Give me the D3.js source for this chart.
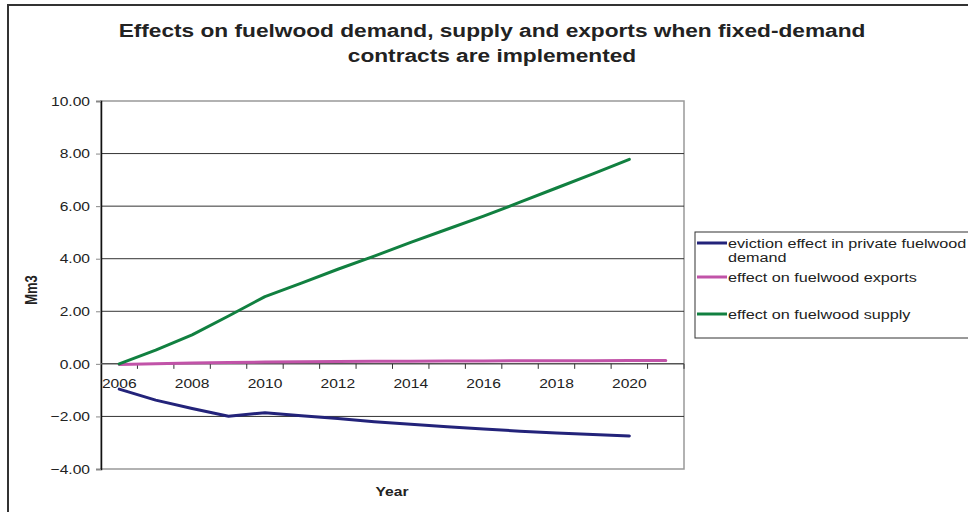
<!DOCTYPE html>
<html>
<head>
<meta charset="utf-8">
<script src="https://cdn.jsdelivr.net/npm/d3@7"></script>
<style>
  body { margin: 0; background: #fff; }
  svg { display: block; font-family: "Liberation Sans", Arial, sans-serif; }
</style>
</head>
<body>
<div id="chart"></div>
<script>
// years on the category axis (2021 only carries the exports series)
const years = d3.range(2006, 2022);
const evictionDemand = [-0.96, -1.38, -1.7, -1.99, -1.86, -1.97, -2.08, -2.2, -2.3, -2.39, -2.48, -2.56, -2.63, -2.69, -2.74];
const fuelwoodExports = [-0.02, 0.0, 0.03, 0.05, 0.07, 0.08, 0.09, 0.1, 0.1, 0.11, 0.11, 0.12, 0.12, 0.12, 0.13, 0.13];
const fuelwoodSupply = [0, 0.52, 1.1, 1.82, 2.56, 3.07, 3.6, 4.1, 4.62, 5.12, 5.62, 6.15, 6.69, 7.23, 7.78];
const yTicks = [-4, -2, 0, 2, 4, 6, 8, 10];
const xLabels = [2006, 2008, 2010, 2012, 2014, 2016, 2018, 2020];

const series = [
  { name: ['eviction effect in private fuelwood', 'demand'], values: evictionDemand, color: '#23237a' },
  { name: ['effect on fuelwood exports'], values: fuelwoodExports, color: '#c153a8' },
  { name: ['effect on fuelwood supply'], values: fuelwoodSupply, color: '#118040' }
];

const W = 968, H = 512;
const margin = { left: 101, right: 284, top: 101, bottom: 43 };
const width = W - margin.left - margin.right;
const height = H - margin.top - margin.bottom;
// the original picture is stretched sideways, so the text is too
const sx = 1.2;

const svg = d3.select('#chart').append('svg')
  .attr('width', W)
  .attr('height', H);

// put a text at (px, py) with the sideways stretch
function place(sel, px, py, extra) {
  return sel.attr('transform', `translate(${px},${py}) scale(${sx},1)${extra || ''}`);
}

// outer chart frame
svg.append('rect')
  .attr('x', 8).attr('y', 5)
  .attr('width', W + 10).attr('height', H + 10)
  .attr('fill', 'none')
  .attr('stroke', '#333')
  .attr('stroke-width', 2);

// title
const title = place(svg.append('text'), 492, 0)
  .attr('text-anchor', 'middle')
  .attr('font-weight', 'bold')
  .attr('font-size', 18.9)
  .attr('fill', '#222');
title.append('tspan').attr('x', 0).attr('y', 37)
  .text('Effects on fuelwood demand, supply and exports when fixed-demand');
title.append('tspan').attr('x', 0).attr('y', 62)
  .text('contracts are implemented');

const g = svg.append('g')
  .attr('transform', `translate(${margin.left},${margin.top})`);

const x = d3.scaleBand()
  .domain(years)
  .range([0, width]);
const y = d3.scaleLinear()
  .domain([-4, 10])
  .range([height, 0]);

// plot area border
g.append('rect')
  .attr('width', width).attr('height', height)
  .attr('fill', 'none')
  .attr('stroke', '#999')
  .attr('stroke-width', 1.5);

// horizontal gridlines
g.append('g')
  .selectAll('line')
  .data(yTicks.filter(d => d !== 10 && d !== -4 && d !== 0))
  .enter()
  .append('line')
  .attr('x1', 0).attr('x2', width)
  .attr('y1', d => y(d)).attr('y2', d => y(d))
  .attr('stroke', '#333')
  .attr('stroke-width', 1);

// y axis
const yAxis = g.append('g')
  .call(d3.axisLeft(y)
    .tickValues(yTicks)
    .tickSize(5)
    .tickFormat(d3.format('.2f')));
yAxis.select('.domain').attr('stroke', '#111').attr('stroke-width', 1.5);
yAxis.selectAll('.tick line').attr('stroke', '#888');
yAxis.selectAll('.tick text')
  .attr('x', null)
  .attr('transform', `translate(-11,0) scale(${sx},1)`)
  .attr('font-size', 13)
  .attr('font-family', '"Liberation Sans", Arial, sans-serif')
  .attr('fill', '#222');

// x axis crosses at zero, ticks between categories
const xAxis = g.append('g')
  .attr('transform', `translate(0,${y(0)})`);
xAxis.append('line')
  .attr('x1', 0).attr('x2', width)
  .attr('stroke', '#555')
  .attr('stroke-width', 1.5);
xAxis.selectAll('.tk')
  .data(years)
  .enter()
  .append('line')
  .attr('class', 'tk')
  .attr('x1', d => x(d) + x.bandwidth())
  .attr('x2', d => x(d) + x.bandwidth())
  .attr('y1', 0).attr('y2', 5)
  .attr('stroke', '#333');
xAxis.selectAll('.lbl')
  .data(xLabels)
  .enter()
  .append('text')
  .attr('class', 'lbl')
  .attr('transform', d => `translate(${x(d) + x.bandwidth() / 2},24) scale(${sx},1)`)
  .attr('text-anchor', 'middle')
  .attr('font-size', 13)
  .attr('fill', '#222')
  .text(d => d);

// lines
const line = d3.line()
  .x((d, i) => x(years[i]) + x.bandwidth() / 2)
  .y(d => y(d));
g.selectAll('.series')
  .data(series)
  .enter()
  .append('path')
  .attr('class', 'series')
  .attr('d', d => line(d.values))
  .attr('fill', 'none')
  .attr('stroke', d => d.color)
  .attr('stroke-width', 3)
  .attr('stroke-linejoin', 'round')
  .attr('stroke-linecap', 'round');

// axis titles
place(svg.append('text'), 392, 496)
  .attr('text-anchor', 'middle')
  .attr('font-weight', 'bold')
  .attr('font-size', 13)
  .attr('fill', '#222')
  .text('Year');
place(svg.append('text'), 37, 290, ' rotate(-90)')
  .attr('text-anchor', 'middle')
  .attr('font-weight', 'bold')
  .attr('font-size', 13)
  .attr('fill', '#222')
  .text('Mm3');

// legend
const legend = svg.append('g');
legend.append('rect')
  .attr('x', 695).attr('y', 232)
  .attr('width', 290).attr('height', 106)
  .attr('fill', '#fff')
  .attr('stroke', '#333')
  .attr('stroke-width', 1);
const legendY = [243, 277, 314];
const item = legend.selectAll('.item')
  .data(series)
  .enter()
  .append('g')
  .attr('class', 'item')
  .attr('transform', (d, i) => `translate(697,${legendY[i]})`);
item.append('line')
  .attr('x1', 0).attr('x2', 30)
  .attr('stroke', d => d.color)
  .attr('stroke-width', 3);
item.append('text')
  .attr('transform', `translate(31,5) scale(${sx},1)`)
  .attr('font-size', 13.5)
  .attr('fill', '#222')
  .selectAll('tspan')
  .data(d => d.name)
  .enter()
  .append('tspan')
  .attr('x', 0)
  .attr('dy', (d, i) => (i === 0 ? 0 : 14))
  .text(d => d);
</script>
</body>
</html>
